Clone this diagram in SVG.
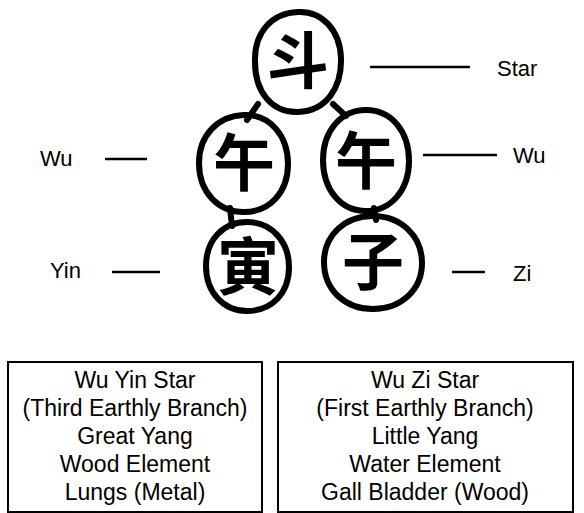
<svg xmlns="http://www.w3.org/2000/svg" width="584" height="513" viewBox="0 0 584 513">
<style>
.ring{fill:none;stroke:#000;stroke-width:6;stroke-linejoin:round}
.ch{font-family:"Noto Sans CJK SC","Noto Sans CJK JP",sans-serif;font-weight:bold;font-size:62px;fill:#000;text-anchor:middle}
.lbl{font-family:"Liberation Sans",Arial,sans-serif;font-size:22px;fill:#000}
.box{fill:#fff;stroke:#000;stroke-width:2}
.bt{font-family:"Liberation Sans",Arial,sans-serif;font-size:23px;fill:#000;text-anchor:middle}
.ln{stroke:#000;stroke-width:2.5}
.stub{stroke:#000;stroke-width:6;stroke-linecap:round}
</style>
<rect width="584" height="513" fill="#fff"/>
<g id="connectors">
<line class="stub" x1="258" y1="104" x2="247" y2="120"/>
<line class="stub" x1="333" y1="104" x2="346" y2="116"/>
<line class="stub" x1="230" y1="208" x2="232" y2="226"/>
<line class="stub" x1="374" y1="208" x2="376" y2="220"/>
<line class="ln" x1="370" y1="67" x2="470" y2="67"/>
<line class="ln" x1="423" y1="155" x2="497" y2="155"/>
<line class="ln" x1="105" y1="159" x2="147" y2="159"/>
<line class="ln" x1="112" y1="272" x2="160" y2="272"/>
<line class="ln" x1="452" y1="272" x2="485" y2="272"/>
</g>
<g id="node-dou">
<path class="ring" d="M298,12 C322,11 340,30 341,58 C342,88 326,111 298,112 C272,113 255,92 255,62 C254,32 272,13 298,12 Z"/>
<text class="ch" x="298" y="84">斗</text>
</g>
<g id="node-wu-left">
<path class="ring" d="M244,115 C270,114 288,136 288,164 C288,192 270,212 244,212 C218,212 199,192 199,163 C199,135 218,116 244,115 Z"/>
<text class="ch" x="244" y="186">午</text>
</g>
<g id="node-wu-right">
<path class="ring" d="M366,110 C392,110 409,132 409,161 C409,190 391,211 366,211 C341,211 323,190 323,160 C323,131 341,110 366,110 Z"/>
<text class="ch" x="366" y="184">午</text>
</g>
<g id="node-yin">
<path class="ring" d="M247,222 C272,222 289,242 289,267 C289,293 272,311 247,311 C223,311 206,292 206,266 C206,240 223,222 247,222 Z"/>
<text class="ch" x="248" y="290">寅</text>
</g>
<g id="node-zi">
<path class="ring" d="M373,216 C401,216 422,236 422,263 C422,290 401,309 373,309 C345,309 324,290 324,262 C324,235 345,216 373,216 Z"/>
<text class="ch" x="373" y="285">子</text>
</g>
<g id="labels">
<text class="lbl" x="497" y="76">Star</text>
<text class="lbl" x="513" y="163">Wu</text>
<text class="lbl" x="40" y="166">Wu</text>
<text class="lbl" x="50" y="278">Yin</text>
<text class="lbl" x="513" y="281">Zi</text>
</g>
<g id="box-left">
<rect class="box" x="8" y="362" width="254" height="150"/>
<text class="bt" x="135" y="388">Wu Yin Star</text>
<text class="bt" x="135" y="416">(Third Earthly Branch)</text>
<text class="bt" x="135" y="444">Great Yang</text>
<text class="bt" x="135" y="472">Wood Element</text>
<text class="bt" x="135" y="500">Lungs (Metal)</text>
</g>
<g id="box-right">
<rect class="box" x="278" y="362" width="295" height="150"/>
<text class="bt" x="425" y="388">Wu Zi Star</text>
<text class="bt" x="425" y="416">(First Earthly Branch)</text>
<text class="bt" x="425" y="444">Little Yang</text>
<text class="bt" x="425" y="472">Water Element</text>
<text class="bt" x="425" y="500">Gall Bladder (Wood)</text>
</g>
</svg>
